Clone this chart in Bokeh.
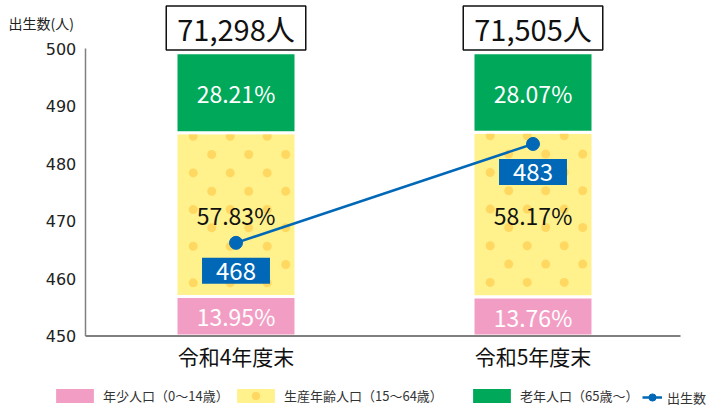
from bokeh.plotting import figure
from bokeh.models import Range1d, Label, Legend, LegendItem, ColumnDataSource
from bokeh.embed import file_html
from bokeh.resources import INLINE
from bokeh.core.properties import value
import numpy as np

# ---------------- data ----------------
periods = ["令和4年度末", "令和5年度末"]
young = [13.95, 13.76]      # 年少人口 %
working = [57.83, 58.17]    # 生産年齢人口 %
old = [28.21, 28.07]        # 老年人口 %
totals = ["71,298人", "71,505人"]
births = [466.2, 483.4]     # plotted positions of 出生数 points
birth_labels = ["468", "483"]
y_ticks = [450, 460, 470, 480, 490, 500]
legend_labels = ["年少人口（0～14歳）", "生産年齢人口（15～64歳）", "老年人口（65歳～）", "出生数"]

# ---------------- style ----------------
PINK = "#F29EC4"
YELLOW = "#FFF18C"
DOT = "#FFD862"
GREEN = "#00A85A"
BLUE = "#0068B7"
AXIS = "#808080"
JP = "Noto Sans CJK JP"

W, H = 706, 405
X0PX = 235.5      # px of first category
XPX = 297.0       # px per category step
AX_Y = 335.5      # px of the value 450 (bottom axis)
YPX = 5.75        # px per birth unit
PPX = 2.832       # px per percent
AX_L, AX_R = 85.0, 680.0

def px_to_x(px):
    return (px - X0PX) / XPX

p = figure(width=W, height=H,
           x_range=Range1d(px_to_x(0), px_to_x(W)),
           y_range=Range1d(450 - (H - AX_Y) / YPX, 450 + AX_Y / YPX),
           output_backend="svg", toolbar_location=None,
           min_border_left=0, min_border_right=0,
           min_border_top=0, min_border_bottom=0)
p.extra_y_ranges = {"pct": Range1d(-(H - AX_Y) / PPX, AX_Y / PPX)}
p.xaxis.visible = False
p.yaxis.visible = False
p.outline_line_color = None
p.grid.visible = False
p.background_fill_color = "white"
p.border_fill_color = "white"

xt = list(range(len(periods)))

# stacked bars
yv = np.array(young)
wv = np.array(working)
ov = np.array(old)
bw = 120 / XPX
src = ColumnDataSource(dict(
    x=xt,
    y_b=np.zeros(2), y_t=yv,
    w_b=yv, w_t=yv + wv,
    o_b=yv + wv, o_t=yv + wv + ov,
))
r_work = p.vbar(x="x", bottom="w_b", top="w_t", width=bw, source=src,
                fill_color=YELLOW, line_color="white", line_width=3, y_range_name="pct")

# dot pattern on the working-age segment
dx, dy = [], []
for i in xt:
    top_px = (young[i] + working[i]) * PPX - 1.5
    bot_px = young[i] * PPX + 1.5
    yy = top_px - 2.0
    row = 0
    while yy > bot_px + 3:
        xx = 15.7 if row % 2 == 0 else 34.2
        while xx <= 113:
            dx.append(i + (xx - 58.5) / XPX)
            dy.append(yy / PPX)
            xx += 37.0
        yy -= 18.33
        row += 1
r_dots = p.scatter(dx, dy, size=9, fill_color=DOT, line_color=None, y_range_name="pct")

r_young = p.vbar(x="x", bottom="y_b", top="y_t", width=bw, source=src,
                 fill_color=PINK, line_color="white", line_width=3, y_range_name="pct")
r_old = p.vbar(x="x", bottom="o_b", top="o_t", width=bw, source=src,
               fill_color=GREEN, line_color="white", line_width=3, y_range_name="pct")

# axes (drawn as guides through the plot scales)
xl, xr_ = px_to_x(AX_L), px_to_x(AX_R)
p.segment(x0=[xl], y0=[450], x1=[xl], y1=[y_ticks[-1]], line_color=AXIS, line_width=1.5)
p.segment(x0=[xl], y0=[450], x1=[xr_], y1=[450], line_color=AXIS, line_width=2)
p.text(x=[xl] * len(y_ticks), y=y_ticks, text=[str(t) for t in y_ticks], x_offset=-24.5,
       text_align="center", text_baseline="middle", text_font=value("DejaVu Sans"),
       text_font_size="16px", text_color="#222222")
p.text(x=xt, y=[450] * len(xt), text=periods, y_offset=19.5,
       text_align="center", text_baseline="middle", text_font=value(JP),
       text_font_size="21px", text_color="#111111")

# percentage labels
tx, ty, tt, tc = [], [], [], []
for i in xt:
    tx += [i, i, i]
    ty += [young[i] / 2, young[i] + working[i] / 2, young[i] + working[i] + old[i] / 2]
    tt += ["%.2f%%" % young[i], "%.2f%%" % working[i], "%.2f%%" % old[i]]
    tc += ["white", "#111111", "white"]
p.text(x=tx, y=ty, text=tt, text_color=tc, y_range_name="pct",
       text_align="center", text_baseline="middle",
       text_font=value(JP), text_font_size="23px")

# births line
r_line = p.line(xt, births, line_color=BLUE, line_width=2.5)
r_pts = p.scatter(xt, births, size=13, fill_color=BLUE, line_color=BLUE)

for i in xt:
    p.add_layout(Label(x=i, y=births[i], y_offset=-28, text=birth_labels[i],
                       text_align="center", text_baseline="middle",
                       text_font=JP, text_font_size="24px", text_color="white",
                       background_fill_color=BLUE, padding=(14, 4)))
    p.add_layout(Label(x=i, y=H - 27.5, y_units="screen", text=totals[i],
                       text_align="center", text_baseline="middle",
                       text_font=JP, text_font_size="29px", text_color="#111111",
                       background_fill_color="white", border_line_color="#111111",
                       border_line_width=1.5, padding=(11, 1)))

p.add_layout(Label(x=8, y=H - 22.7, x_units="screen", y_units="screen", text="出生数(人)",
                   text_align="left", text_baseline="middle",
                   text_font=JP, text_font_size="14px", text_color="#222222"))

# legends (one per entry, placed individually)
common = dict(orientation="horizontal", label_text_font=JP, label_text_font_size="13px",
              label_text_color="#333333", padding=0, margin=0, spacing=0,
              border_line_color=None, background_fill_alpha=0)
box_x = [49, 230, 466]
box_r = [[r_young], [r_work, r_dots], [r_old]]
for k in range(3):
    p.add_layout(Legend(items=[LegendItem(label=legend_labels[k], renderers=box_r[k])],
                        location=(box_x[k], -0.5), glyph_width=51, glyph_height=21,
                        label_height=21, label_standoff=3, **common))
p.add_layout(Legend(items=[LegendItem(label=legend_labels[3], renderers=[r_line, r_pts])],
                    location=(642, -1.5), glyph_width=20, glyph_height=18,
                    label_height=18, label_standoff=5, **common))

open("out.html", "w").write(file_html(p, INLINE))
